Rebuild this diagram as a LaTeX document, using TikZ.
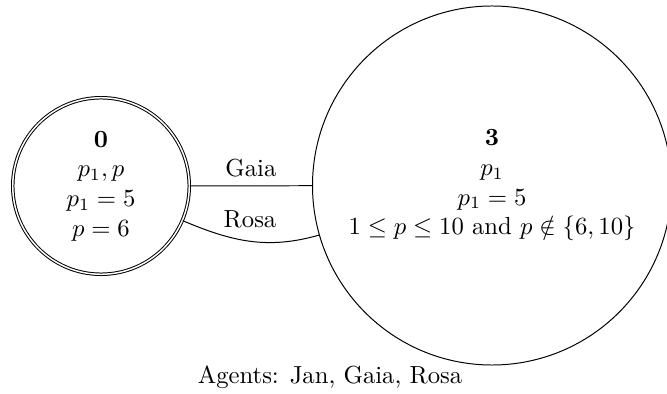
\documentclass[tikz,border=0pt]{standalone}
\usetikzlibrary{positioning}
\begin{document}
\begin{tikzpicture}[x=0.405pt,y=-0.405pt,
  world/.style={draw,circle,align=center,inner sep=0pt,line width=0.4pt},
  link/.style={draw,line width=0.4pt},
  lab/.style={font=\normalsize}]
\useasboundingbox (0,0) rectangle (667,394);
\node[world,double,minimum size=71.5pt] (w0) at (101,186)
  {$\mathbf{0}$\\ $p_1, p$\\ $p_1 = 5$\\ $p = 6$};
\node[world,minimum size=145.4pt] (w3) at (492,185.5)
  {$\mathbf{3}$\\ $p_1$\\ $p_1 = 5$\\ $1 \leq p \leq 10$ and $p \notin \{6, 10\}$};
\path[link] (w0) -- node[above] {Gaia} (w3);
\path[link] (w0) to[out=-23,in=196] node[above,yshift=2pt] {Rosa} (w3);
\node[anchor=base] (agents) at (330,383) {Agents: Jan, Gaia, Rosa};
\end{tikzpicture}
\end{document}
